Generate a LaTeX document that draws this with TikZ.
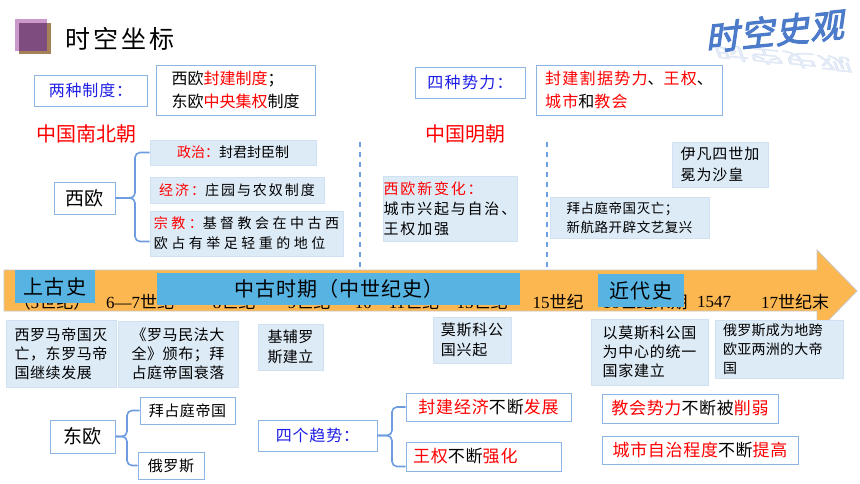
\documentclass[tikz,border=0pt]{standalone}
\usepackage{fontspec}
\setmainfont{Noto Sans CJK SC}
\newfontfamily\tser{Liberation Serif}
\newfontfamily\logofont[FakeSlant=0.25,FakeBold=3]{Noto Sans CJK SC}
\definecolor{bbd}{HTML}{8EB4E3}
\definecolor{lbf}{HTML}{DDEBF7}
\definecolor{lbd}{HTML}{CFE1F3}
\definecolor{erab}{HTML}{56B3E2}
\definecolor{orng}{HTML}{FDB751}
\definecolor{brc}{HTML}{6D9DE0}
\definecolor{myred}{HTML}{FF0000}
\definecolor{myblue}{HTML}{1F1FE6}
\definecolor{logob}{HTML}{4B7BC9}
\definecolor{dsh}{HTML}{6F9FE3}
\newcommand\redt[1]{\textcolor{myred}{#1}}
\newcommand\lsp[1]{\addfontfeature{LetterSpace=#1}}
\newcommand\fsz[2]{\fontsize{#1}{#2}\selectfont}

\begin{document}
\begin{tikzpicture}[x=1pt,y=-1pt,
  tbox/.style={draw=bbd,line width=0.9pt,fill=white,inner sep=0pt,align=left},
  lbox/.style={draw=lbd,line width=0.6pt,fill=lbf,inner sep=0pt,align=left},
  era/.style={fill=erab,inner sep=0pt},
  sz/.style 2 args={minimum width=#1,minimum height=#2},
  brace/.style={draw=brc,line width=1.6pt,rounded corners=5pt},
  tick/.style={font=\fsz{17}{17},inner sep=0pt}]
\useasboundingbox (0,0) rectangle (860,484);

% title
\fill[brown!60!gray] (19,23) rectangle (51,54);
\fill[violet!40!white] (15,19) rectangle (47,51);
\fill[violet!55!black!70!white] (19,23) rectangle (47,51);
\node[anchor=west,inner sep=0pt,font=\fsz{25}{25}\lsp{12}] (title) at (65,39) {时空坐标};
\node[inner sep=0pt,text=logob,font=\logofont\fsz{34}{34}\lsp{3},rotate=6] (logo) at (774,31) {时空史观};
\node[inner sep=0pt,text=logob,opacity=0.12,font=\logofont\fsz{34}{34}\lsp{3},rotate=-6,yscale=-0.5] (logor) at (780,58) {时空史观};

% top row
\node[tbox,sz={113}{31},text=myblue,font=\fsz{16}{16}\lsp{5}] (lzzd) at (90.5,90.5) {两种制度：};
\node[tbox,sz={159}{50},font=\fsz{16}{23}] (lzzdt) at (235.5,90) {西欧\redt{封建制度}；\\东欧\redt{中央集权}制度};
\node[tbox,sz={110}{31},text=myblue,font=\fsz{16}{16}\lsp{8}] (szsl) at (470,82.5) {四种势力：};
\node[tbox,sz={186}{50},font=\fsz{16}{23}\lsp{8}] (szslt) at (629,90) {\redt{封建割据势力}、\redt{王权}、\\\redt{城市}和\redt{教会}};

\node[inner sep=0pt,text=myred,font=\fsz{20}{20}] (nbc) at (86,134) {中国南北朝};
\node[inner sep=0pt,text=myred,font=\fsz{20}{20}] (mc) at (465,134) {中国明朝};

% west europe
\node[tbox,sz={61}{32},font=\fsz{19}{19}] (xo) at (84.5,198) {西欧};
\node[lbox,sz={166}{25},font=\fsz{14}{14}] (zz) at (233,152.5) {\redt{政治：}封君封臣制};
\node[lbox,sz={174}{26},font=\fsz{14}{14}\lsp{14}] (jj) at (237,190) {\redt{经济：}庄园与农奴制度};
\node[lbox,sz={193}{45},font=\fsz{14}{20}\lsp{25}] (zj) at (246.5,233.5) {\redt{宗教：}基督教会在中古西\\欧占有举足轻重的地位};
\coordinate (bxo) at (135,198);
\draw[brace] (xo.east) -- (bxo) |- (zz.west);
\draw[brace] (xo.east) -- (bxo) |- ([yshift=-8pt]zj.west);

\draw[dsh,line width=1.2pt,dash pattern=on 5pt off 5pt] (360,142) -- (360,270);
\draw[dsh,line width=1.2pt,dash pattern=on 5pt off 5pt] (547,142) -- (547,270);

\node[lbox,sz={134}{65},font=\fsz{15}{20}\lsp{12}] (xbh) at (450,208.5) {\redt{西欧新变化：}\\城市兴起与自治、\\王权加强};
\node[lbox,sz={159}{41},font=\fsz{13.5}{19}\lsp{4}] (bzt) at (629.5,217.5) {拜占庭帝国灭亡；\\新航路开辟文艺复兴};
\node[lbox,sz={96}{45},font=\fsz{15}{21}\lsp{6}] (yf) at (720,164.5) {伊凡四世加\\冕为沙皇};

% timeline
\fill[orng,draw=gray!45,line width=0.8pt] (4,270) -- (817,270) -- (817,250) -- (857,291) -- (817,332) -- (817,311) -- (4,311) -- cycle;
\node[tick] (t5) at (52,302) {（{\tser 5}世纪）};
\node[tick] (t67) at (140,302) {{\tser 6—7}世纪};
\node[tick] (t8) at (234,302) {{\tser 8}世纪};
\node[tick] (t9) at (309,302) {{\tser 9}世纪};
\node[tick] (t1011) at (397,302) {{\tser 10—11}世纪};
\node[tick] (t13) at (482,302) {{\tser 13}世纪};
\node[tick] (t15) at (558,302) {{\tser 15}世纪};
\node[tick] (t16) at (645,302) {{\tser 16}世纪末期};
\node[tick] (t1547) at (714,302) {\tser 1547};
\node[tick] (t17) at (795,302) {{\tser 17}世纪末};
\node[era,sz={80}{33},font=\fsz{20}{20}\lsp{6}] (sgs) at (55,286.5) {上古史};
\node[era,sz={363}{32},font=\fsz{20}{20}\lsp{5}] (zgs) at (338.5,289) {中古时期（中世纪史）};
\node[era,sz={86}{33},font=\fsz{20}{20}\lsp{6}] (jds) at (641,290.5) {近代史};

% below the timeline
\node[lbox,sz={110}{67},font=\fsz{15}{19}\lsp{4}] (xlm) at (61,353.5) {西罗马帝国灭\\亡，东罗马帝\\国继续发展};
\node[lbox,sz={120}{66},font=\fsz{15}{19}\lsp{4}] (lmf) at (178,354) {《罗马民法大\\全》颁布；拜\\占庭帝国衰落};
\node[lbox,sz={65}{46},font=\fsz{15}{20}\lsp{3}] (jfl) at (290.5,347) {基辅罗\\斯建立};
\node[lbox,sz={78}{46},font=\fsz{15}{20}\lsp{5}] (msk) at (472,340) {莫斯科公\\国兴起};
\node[lbox,sz={117}{66},font=\fsz{15}{19}\lsp{5}] (tyg) at (649.5,352) {以莫斯科公国\\为中心的统一\\国家建立};
\node[lbox,sz={128}{58},text width=112pt,font=\fsz{14}{19}\lsp{2}] (els) at (779,349) {俄罗斯成为地跨\\欧亚两洲的大帝\\国};

% east europe
\node[tbox,sz={65}{33},font=\fsz{19}{19}] (dO) at (82.5,436.5) {东欧};
\node[tbox,sz={95}{27},font=\fsz{15}{15}\lsp{4}] (bz) at (187.5,410.5) {拜占庭帝国};
\node[tbox,sz={66}{27},font=\fsz{15}{15}\lsp{4}] (ers) at (171,465.5) {俄罗斯};
\coordinate (bdo) at (127,436.5);
\draw[brace] (dO.east) -- (bdo) |- (bz.west);
\draw[brace] (dO.east) -- (bdo) |- (ers.west);

% four trends
\node[tbox,sz={119}{31},text=myblue,font=\fsz{16}{16}\lsp{5}] (sqs) at (317.5,435.5) {四个趋势：};
\node[tbox,sz={165}{28},font=\fsz{17}{17}\lsp{5}] (fj) at (488.5,407) {\redt{封建经济}不断\redt{发展}};
\node[tbox,sz={155}{29},text width=141pt,font=\fsz{17}{17}\lsp{5}] (wq) at (483.5,456.5) {\redt{王权}不断\redt{强化}};
\node[tbox,sz={176}{29},font=\fsz{17}{17}\lsp{4}] (jh) at (690,408.5) {\redt{教会势力}不断被\redt{削弱}};
\node[tbox,sz={196}{28},font=\fsz{17}{17}\lsp{4}] (cs) at (700,450) {\redt{城市自治程度}不断\redt{提高}};
\coordinate (bsq) at (392,435.5);
\draw[brace] (sqs.east) -- (bsq) |- (fj.west);
\draw[brace] (sqs.east) -- (bsq) |- ([yshift=-10pt]wq.west);
\end{tikzpicture}
\end{document}
